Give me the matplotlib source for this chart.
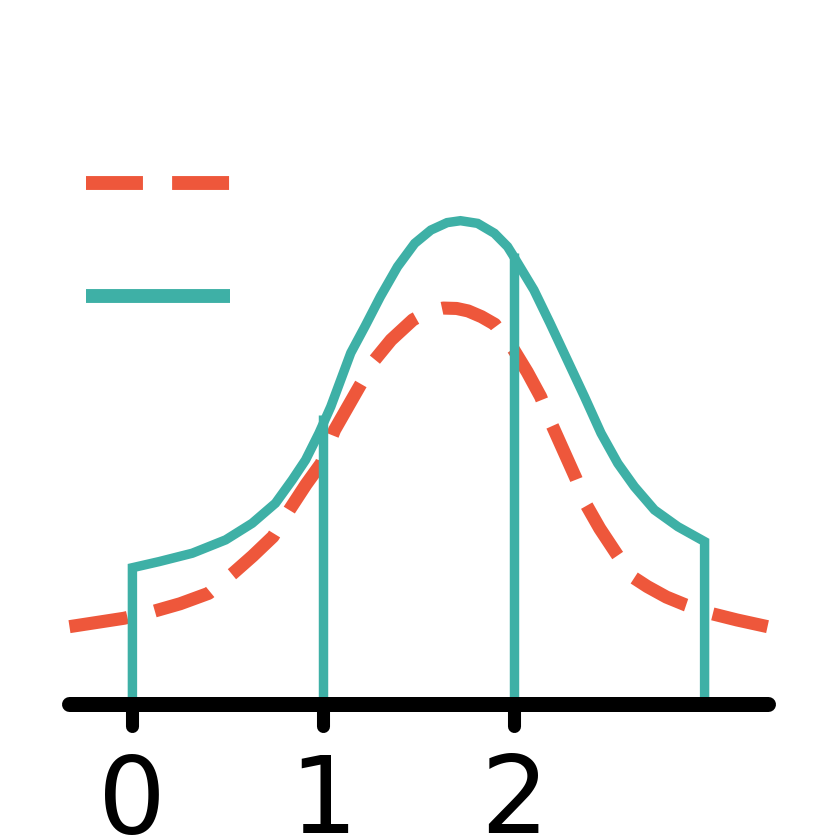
import matplotlib.pyplot as plt
from matplotlib.lines import Line2D
from matplotlib.markers import MarkerStyle

# values
tick_values = [0, 1, 2]
tick_labels = ['0', '1', '2']

# dashed (orange) curve
dash_x = [-0.33, -0.044, 0.11, 0.25, 0.40, 0.528, 0.63, 0.737, 0.823, 0.91,
          0.99, 1.06, 1.18, 1.27, 1.356, 1.47, 1.55, 1.63, 1.70, 1.76, 1.83,
          1.90, 2.0, 2.07, 2.14, 2.20, 2.325, 2.38, 2.45, 2.536, 2.62, 2.70,
          2.80, 2.90, 3.03, 3.17, 3.33]
dash_y = [0.405, 0.449, 0.485, 0.525, 0.580, 0.685, 0.775, 0.877, 1.017, 1.15,
          1.261, 1.436, 1.646, 1.803, 1.908, 2.013, 2.058, 2.075, 2.073, 2.060,
          2.030, 1.990, 1.855, 1.740, 1.611, 1.462, 1.183, 1.043, 0.920, 0.790,
          0.667, 0.615, 0.560, 0.519, 0.475, 0.440, 0.405]

# solid (teal) curve over the bins
solid_x = [0.0, 0.14, 0.314, 0.489, 0.628, 0.75, 0.838, 0.908, 0.978, 1.04,
           1.145, 1.22, 1.30, 1.39, 1.48, 1.565, 1.65, 1.72, 1.81, 1.898, 1.967,
           2.0, 2.105, 2.19, 2.28, 2.37, 2.457, 2.545, 2.632, 2.737, 2.86, 3.0]
solid_y = [0.714, 0.746, 0.790, 0.860, 0.947, 1.052, 1.174, 1.279, 1.419, 1.558,
           1.840, 1.980, 2.135, 2.292, 2.414, 2.484, 2.523, 2.533, 2.519, 2.467,
           2.397, 2.344, 2.170, 1.995, 1.803, 1.611, 1.419, 1.261, 1.139, 1.017,
           0.929, 0.851]
bin_edges = [1.0, 2.0]
bin_edge_heights = [1.515, 2.362]

orange = '#EE573B'
teal = '#3EB0A6'

fig = plt.figure(figsize=(8.36, 8.36), dpi=100)
ax = fig.add_axes([0.0831, 0.158, 0.835, 0.842])

ax.plot(dash_x, dash_y, color=orange, lw=9.4, linestyle=(0, (4.5, 2.15)),
        dash_capstyle='butt', dash_joinstyle='round', clip_on=False)

# closed outline down to the axis at both ends
ax.plot([solid_x[0]] + solid_x + [solid_x[-1]], [0] + solid_y + [0],
        color=teal, lw=6.8, solid_joinstyle='miter', clip_on=False)
ax.vlines(bin_edges, 0, bin_edge_heights, color=teal, lw=6.8)

ax.set_xlim(dash_x[0], dash_x[-1])
ax.set_ylim(0, 3.69)

for side in ['top', 'right', 'left']:
    ax.spines[side].set_visible(False)
ax.spines['bottom'].set_linewidth(10.8)
ax.spines['bottom'].set_capstyle('round')
ax.spines['bottom'].set_zorder(5)
ax.set_yticks([])
ax.set_xticks(tick_values)
ax.set_xticklabels(tick_labels, fontsize=77)
ax.tick_params(axis='x', direction='out', length=16, width=9.4, pad=18.7)
for t in ax.xaxis.get_major_ticks():
    t.tick1line.set_marker(MarkerStyle(3, capstyle='round'))

handles = [Line2D([], [], color=orange, lw=10, dashes=(4.1, 2.1), dash_capstyle='butt'),
           Line2D([], [], color=teal, lw=10, solid_capstyle='butt')]
ax.legend(handles, ['', ''], loc='upper left', bbox_to_anchor=(0.024, 0.757),
          frameon=False, fontsize=20, handlelength=5.18, labelspacing=3.06,
          borderpad=0, borderaxespad=0, handletextpad=0)

fig.savefig('out.png', dpi=100)
